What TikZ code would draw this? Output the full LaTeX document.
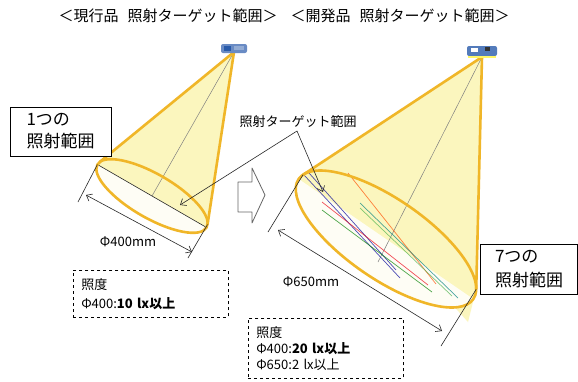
\documentclass[tikz,border=0pt]{standalone}
\usepackage{fontspec}
\setmainfont{Noto Sans CJK JP}
\usetikzlibrary{arrows.meta}
\definecolor{conegold}{RGB}{240,182,40}
\definecolor{conefill}{RGB}{251,246,190}
\definecolor{lampblue}{RGB}{40,90,170}
\newcommand\fsz[2]{\fontsize{#1}{#2}\selectfont}
\tikzset{
  coneline/.style={conegold, line width=2.6pt, line join=round},
  midline/.style={gray, line width=.5pt},
  dimline/.style={black!85, line width=.6pt},
  spotline/.style={line width=.7pt, opacity=.7},
  titletext/.style={font=\fsz{15}{17}, inner sep=0pt},
  smalltext/.style={font=\fsz{13}{15}, inner sep=0pt},
  countbox/.style={draw, line width=1pt, fill=white, align=left, font=\fsz{17}{22},
    minimum width=101pt, minimum height=49pt},
  infobox/.style={draw, dashed, line width=.6pt, align=left,
    inner sep=0pt, text width=#1}
}
\begin{document}
\begin{tikzpicture}[x=1pt, y=-1pt, >={Straight Barb[length=5pt,width=8pt]}]
\useasboundingbox[fill=white] (0,0) rectangle (578,381);

% headings
\node[titletext] (titleL) at (168,16) {＜現行品\hspace{.6em}照射ターゲット範囲＞};
\node[titletext] (titleR) at (400,16) {＜開発品\hspace{.6em}照射ターゲット範囲＞};

% ---- current lamp: one spot ----
\coordinate (lampL) at (234,52);
\coordinate (cL) at (152,196);
\coordinate (tL1) at (99.3,162.3);
\coordinate (tL2) at (207.5,224.6);
\coordinate (eL1) at (97.4,164.5);
\coordinate (eL2) at (206.6,227.5);
\fill[conefill] (lampL) -- (tL1) -- (tL2) -- cycle;
\fill[conefill, rotate around={-30:(cL)}] (cL) ellipse (63 and 22);
\begin{scope}
  \clip[rotate around={-30:(cL)}] (cL) ellipse (63 and 22);
  \fill[white, opacity=.85] (eL1) -- (eL2) -- (230,260) -- (80,260) -- (80,170) -- cycle;
\end{scope}
\draw[midline] (lampL) -- (cL);
\draw[dimline] (eL1) -- (eL2);
\draw[coneline, rotate around={-30:(cL)}] (cL) ellipse (63 and 22);
\draw[coneline] (tL1) -- (lampL) -- (tL2);
\fill[lampblue!70, rounded corners=2pt] (221,44) rectangle (247,53);
\fill[lampblue] (224,46) rectangle (231,51);
\fill[lampblue!50] (234,46) rectangle (244,50);

% diameter 400
\coordinate (xL1) at (78,202);
\coordinate (xL2) at (188,258);
\coordinate (aL1) at (86,195);
\coordinate (aL2) at (192,252);
\draw[dimline] (eL1) -- (xL1);
\draw[dimline] (tL2) -- (xL2);
\draw[dimline, <->] (aL1) -- (aL2);
\node[smalltext] (diaL) at (128,242) {Φ400mm};

\node[countbox] (countL) at (60.5,131.5) {1つの\\照射範囲};

\node[infobox=139pt, font=\fsz{13}{19}, minimum height=47pt, inner xsep=8pt, anchor=north west]
  (luxL) at (73,270) {照度\\Φ400:{\bfseries 10 lx以上}};

% arrow between the two
\draw[gray!80!black, line width=.8pt, fill=white, line join=round]
  (238,182) -- (252,182) -- (252,168) -- (265,195) -- (252,223) -- (252,212) -- (238,212) -- cycle;

% ---- new lamp: seven spots ----
\coordinate (lampR) at (482,57);
\coordinate (cR) at (386,239);
\coordinate (tR1) at (303.1,174.7);
\coordinate (tR2) at (476.2,289.3);
\coordinate (eR1) at (298.7,179);
\coordinate (eR2) at (473.3,299);
\fill[conefill] (lampR) -- (tR1) -- (tR2) -- cycle;
\fill[conefill] (tR2) -- (468,322) -- (450,302) -- cycle;
\fill[conefill, rotate around={-34.5:(cR)}] (cR) ellipse (106 and 40);
\begin{scope}
  \clip[rotate around={-34.5:(cR)}] (cR) ellipse (106 and 40);
  \fill[white, opacity=.85] (eR1) -- (eR2) -- (480,340) -- (280,340) -- (280,185) -- cycle;
\end{scope}
\draw[midline] (lampR) -- (378,262);
% target ranges
\draw[spotline, blue!60!black] (304,175) -- (400,278);
\draw[spotline, blue!60!black] (309,173) -- (396,270);
\draw[spotline, red!70!purple] (322,202) -- (428,285);
\draw[spotline, green!50!black] (322,210) -- (432,292);
\draw[spotline, orange!60!red] (348,173) -- (436,284);
\draw[spotline, teal] (360,203) -- (458,298);
\draw[spotline, green!40!gray] (360,208) -- (452,296);
\draw[coneline, rotate around={-34.5:(cR)}] (cR) ellipse (106 and 40);
\draw[coneline] (tR1) -- (lampR) -- (tR2);
\fill[lampblue!80, rounded corners=2pt] (467,46) rectangle (497,56);
\fill[white] (471,48) rectangle (478,52);
\fill[black!80] (485,47) rectangle (490,51);
\fill[yellow!60] (468,56) rectangle (496,58);

% diameter 650
\coordinate (xR1) at (268,232);
\coordinate (xR2) at (441,346);
\coordinate (aR1) at (278,230);
\coordinate (aR2) at (442,331);
\draw[dimline] (tR1) -- (xR1);
\draw[dimline] (tR2) -- (xR2);
\draw[dimline, <->] (aR1) -- (aR2);
\node[smalltext] (diaR) at (311,282) {Φ650mm};

\node[countbox, font=\fsz{17}{24}, minimum width=97pt, minimum height=50pt] (countR) at (529,269)
  {7つの\\照射範囲};

\node[infobox=139pt, font=\fsz{13}{16}, minimum height=60pt, inner xsep=8pt, anchor=north west]
  (luxR) at (248,318) {照度\\Φ400:{\bfseries 20 lx以上}\\Φ650:2 lx以上};

% target label
\node[smalltext] (target) at (298,122) {照射ターゲット範囲};
\coordinate (tgt) at (297,131);
\draw[dimline, ->] (tgt) -- (180,205);
\draw[dimline, ->] (tgt) -- (323,192);
\end{tikzpicture}
\end{document}
